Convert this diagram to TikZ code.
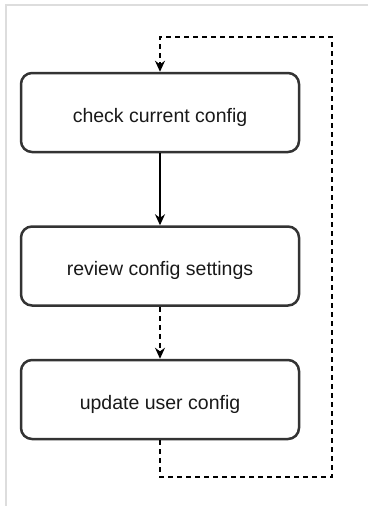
\documentclass[tikz,border=0pt]{standalone}
\usepackage{fontspec}
\setmainfont{Liberation Sans}
\usetikzlibrary{arrows.meta}

\definecolor{boxline}{HTML}{333333}
\definecolor{frameline}{HTML}{DDDDDD}

\tikzset{
  stepbox/.style={draw=boxline, line width=2.5pt, rounded corners=11pt,
    minimum width=278pt, minimum height=79pt, inner sep=0pt,
    text height=19pt, text depth=0pt,
    font=\fontsize{19.5}{23}\selectfont, text=black!90},
  flow/.style={line width=1.4pt, -{Stealth[length=11pt,width=10pt]}},
  loopline/.style={line width=1.4pt, dash pattern=on 5pt off 4pt}
}

\begin{document}
\begin{tikzpicture}[x=1pt,y=-1pt]
\useasboundingbox (0,0) rectangle (368,506);

% Frame
\draw[frameline, line width=1.5pt] (368,5) -- (6,5) -- (6,506);

% Steps
\node[stepbox] (check) at (160,112.5) {check current config};
\node[stepbox] (review) at (160,266) {review config settings};
\node[stepbox] (update) at (160,399.5) {update user config};

% Arrows between steps
\draw[flow] (check.south) -- (review.north);
\draw[flow, dash pattern=on 5pt off 4pt] (review.south) -- (update.north);

% Loop back
\coordinate (loopBR) at (332,477);
\coordinate (loopTR) at (332,37);
\draw[loopline, -{Stealth[length=11pt,width=10pt]}]
  (update.south) |- (loopBR) -- (loopTR) -| (check.north);

\end{tikzpicture}
\end{document}
